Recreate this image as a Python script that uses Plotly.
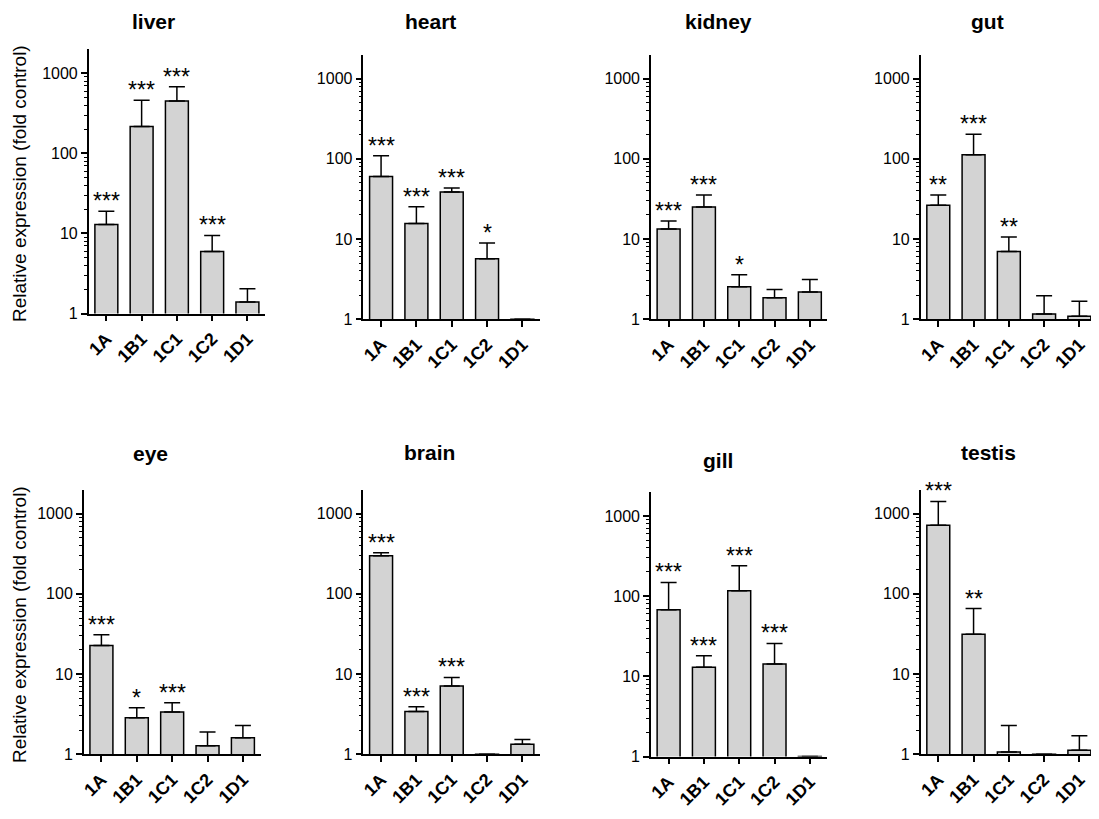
import math
import plotly.graph_objects as go

# page body has an 8px margin; figure sized so everything fits in 1099x819
OFF = 8
W, H = 1099 - OFF, 819 - 2 * OFF

categories = ["1A", "1B1", "1C1", "1C2", "1D1"]
tissues = ["liver", "heart", "kidney", "gut", "eye", "brain", "gill", "testis"]

liver_vals = [12.9, 217, 451, 5.94, 1.39]
liver_err = [6.0, 243, 227, 3.5, 0.65]
liver_sig = ["***", "***", "***", "***", ""]

heart_vals = [60.2, 15.6, 38.6, 5.65, 1.0]
heart_err = [49, 9.6, 4.6, 3.25, 0]
heart_sig = ["***", "***", "***", "*", ""]

kidney_vals = [13.3, 25.1, 2.53, 1.85, 2.18]
kidney_err = [3.4, 10.2, 1.06, 0.5, 0.94]
kidney_sig = ["***", "***", "*", "", ""]

gut_vals = [26.3, 112, 6.98, 1.16, 1.09]
gut_err = [9.0, 90, 3.6, 0.8, 0.58]
gut_sig = ["**", "***", "**", "", ""]

eye_vals = [22.7, 2.86, 3.36, 1.28, 1.61]
eye_err = [8.1, 0.94, 1.02, 0.62, 0.67]
eye_sig = ["***", "*", "***", "", ""]

brain_vals = [298, 3.42, 7.10, 1.0, 1.33]
brain_err = [27, 0.49, 1.97, 0, 0.2]
brain_sig = ["***", "***", "***", "", ""]

gill_vals = [67.5, 13.0, 117, 14.2, 1.0]
gill_err = [80.5, 5.1, 123, 11.5, 0]
gill_sig = ["***", "***", "***", "***", ""]

testis_vals = [719, 31.3, 1.07, 1.0, 1.12]
testis_err = [703, 34.3, 1.21, 0, 0.58]
testis_sig = ["***", "**", "", "", ""]

data = {
    "liver": (liver_vals, liver_err, liver_sig),
    "heart": (heart_vals, heart_err, heart_sig),
    "kidney": (kidney_vals, kidney_err, kidney_sig),
    "gut": (gut_vals, gut_err, gut_sig),
    "eye": (eye_vals, eye_err, eye_sig),
    "brain": (brain_vals, brain_err, brain_sig),
    "gill": (gill_vals, gill_err, gill_sig),
    "testis": (testis_vals, testis_err, testis_sig),
}

major_ticks = [1, 10, 100, 1000]
minor_ticks = [d * 10 ** k for k in range(4) for d in range(2, 10) if d * 10 ** k <= 2000]

# panel geometry in window pixels: (x0, x1), (ytop, ybottom), title center (x, y)
panels = {
    "liver": ((85, 262), (317 - 3.3 * 81, 317), (150, None)),
    "heart": ((360.7, 538), (322.7 - 3.3 * 81.1, 322.7), (428, None)),
    "kidney": ((649.3, 826.5), (322.7 - 3.3 * 81.1, 322.7), (716.7, None)),
    "gut": ((920, 1097), (322.7 - 3.3 * 81.1, 322.7), (986.7, None)),
    "eye": ((80, 257.5), (762.7 - 3.3 * 81.1, 762.7), (146.7, 459)),
    "brain": ((360.7, 538), (762.7 - 3.3 * 81.1, 762.7), (426.7, 458)),
    "gill": ((649.3, 826.5), (765 - 3.3 * 81.1, 765), (716.7, 466)),
    "testis": ((920, 1097), (762.7 - 3.3 * 81.1, 762.7), (988.3, 458)),
}


def px(x):
    return (x - OFF) / W


def py(y):
    return 1 - (y - OFF) / H


FONT = "Liberation Sans, Arial, sans-serif"

fig = go.Figure()
layout = dict(
    width=W, height=H, autosize=False,
    margin=dict(l=0, r=0, t=0, b=0),
    paper_bgcolor="white", plot_bgcolor="white",
    showlegend=False,
    font=dict(family=FONT, color="black"),
)
annotations = []

for i, t in enumerate(tissues):
    idx = "" if i == 0 else str(i + 1)
    vals, errs, sig = data[t]
    (x0, x1), (yt, yb), (tx, ty) = panels[t]
    fig.add_trace(go.Bar(
        x=categories, y=vals,
        xaxis="x" + idx, yaxis="y" + idx,
        width=0.65,
        marker=dict(color="#d3d3d3", line=dict(color="black", width=1.5)),
        error_y=dict(type="data", array=errs, arrayminus=[0] * len(errs),
                     symmetric=False, color="black", thickness=1.5, width=8,
                     visible=True),
        cliponaxis=False,
    ))
    layout["xaxis" + idx] = dict(
        domain=[px(x0), min(1.0, px(x1))], anchor="y" + idx,
        type="category", range=[-0.5, 4.5],
        showline=True, linecolor="black", linewidth=1.5,
        ticks="outside", ticklen=6, tickwidth=1.5, tickcolor="black",
        tickangle=-45, showgrid=False, zeroline=False,
        tickfont=dict(family=FONT, size=18, color="black", weight="bold"),
    )
    layout["yaxis" + idx] = dict(
        domain=[py(yb), py(yt)], anchor="x" + idx,
        type="log", range=[0, 3.3],
        showline=True, linecolor="black", linewidth=1.5,
        ticks="outside", ticklen=6, tickwidth=1.5, tickcolor="black",
        tickmode="array", tickvals=major_ticks,
        ticktext=[str(v) for v in major_ticks],
        minor=dict(ticks="outside", ticklen=3, tickwidth=1, tickcolor="black",
                   tickmode="array", tickvals=minor_ticks, showgrid=False),
        showgrid=False, zeroline=False,
        tickfont=dict(family=FONT, size=16, color="black"),
    )
    if ty is None:
        annotations.append(dict(
            text="<b>" + t + "</b>", xref="paper", yref="paper",
            x=px(tx), y=1.0, xanchor="center", yanchor="top",
            showarrow=False, font=dict(family=FONT, size=21, color="black"),
        ))
    else:
        annotations.append(dict(
            text="<b>" + t + "</b>", xref="paper", yref="paper",
            x=px(tx), y=py(ty), xanchor="center", yanchor="middle",
            showarrow=False, font=dict(family=FONT, size=21, color="black"),
        ))
    for c, v, e, s in zip(categories, vals, errs, sig):
        if s:
            annotations.append(dict(
                text=s, xref="x" + idx, yref="y" + idx,
                x=c, y=math.log10(v + e), xanchor="center", yanchor="bottom",
                yshift=-5, showarrow=False,
                font=dict(family=FONT, size=23, color="black"),
            ))

for cy in (185, 631):
    annotations.append(dict(
        text="Relative expression (fold control)", xref="paper", yref="paper",
        x=px(15), y=py(cy), xanchor="center", yanchor="middle",
        textangle=-90, showarrow=False,
        font=dict(family=FONT, size=19, color="black"),
    ))

layout["annotations"] = annotations
fig.update_layout(**layout)
fig.write_html("out.html")
